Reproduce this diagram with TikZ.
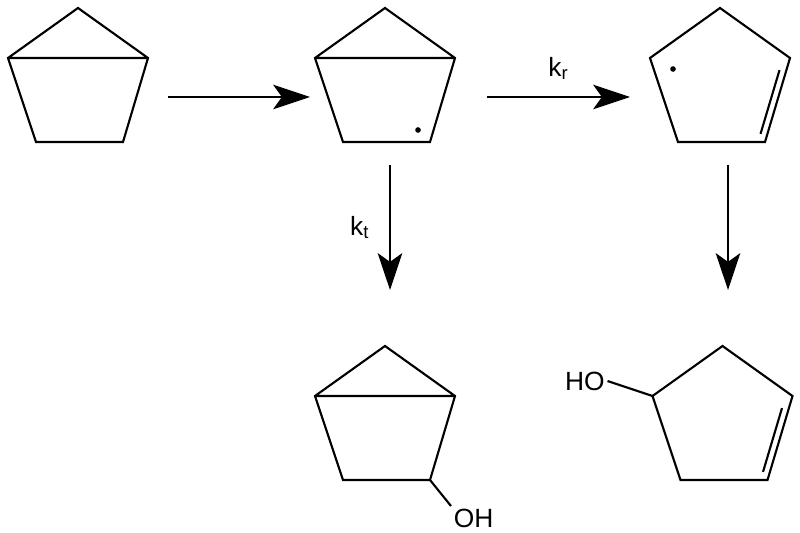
\documentclass[tikz,border=0pt]{standalone}
\usepackage{fontspec}
\setmainfont{Liberation Sans}
\usetikzlibrary{arrows.meta,calc}
\tikzset{bond/.style={line width=1.2pt,line join=miter},
  rxn/.style={line width=0.8pt,-{Stealth[length=21pt,width=14pt,inset=5pt]}},
  lbl/.style={font=\fontsize{15}{17}\selectfont}}
% pentagon with vertices: apex, left, bottom-left, bottom-right, right
\newcommand{\pent}[2]{%
  \begin{scope}[shift={(#1,#2)}]
  \coordinate (A) at (1.4,0);
  \coordinate (L) at (0,-1.0);
  \coordinate (BL) at (0.56,-2.68);
  \coordinate (BR) at (2.3,-2.68);
  \coordinate (R) at (2.8,-1.0);
  \end{scope}}
\begin{document}
\begin{tikzpicture}[x=1cm,y=1cm]
\useasboundingbox (0,0) rectangle (16,-10.66);
%bicyclopentane
\pent{0.16}{-0.16}
\draw[bond] (A)--(L)--(BL)--(BR)--(R)--cycle (L)--(R);
%radical
\pent{6.3}{-0.16}
\draw[bond] (A)--(L)--(BL)--(BR)--(R)--cycle (L)--(R);
\fill ($(BR)+(-0.24,0.24)$) circle (1.6pt);
%cyclopentenyl radical
\pent{13.0}{-0.16}
\draw[bond] (A)--(L)--(BL)--(BR)--(R)--cycle;
\draw[bond] ($(BR)!0.12!(R)+(-0.15,-0.04)$)--($(BR)!0.88!(R)+(-0.15,-0.04)$);
\fill ($(L)+(0.46,-0.22)$) circle (1.6pt);
%bicyclic alcohol
\pent{6.3}{-6.92}
\draw[bond] (A)--(L)--(BL)--(BR)--(R)--cycle (L)--(R);
\draw[bond] (BR)--++(0.42,-0.52) node[lbl,anchor=north west,inner sep=1pt] (oh1) {OH};
%cyclopentenol
\pent{13.05}{-6.92}
\draw[bond] (A)--(L)--(BL)--(BR)--(R)--cycle;
\draw[bond] ($(BR)!0.12!(R)+(-0.15,-0.04)$)--($(BR)!0.88!(R)+(-0.15,-0.04)$);
\draw[bond] (L)--++(-0.9,0.3) node[lbl,anchor=east,inner sep=1pt] (oh2) {HO};
%arrows
\coordinate (a1s) at (3.36,-1.94); \coordinate (a1e) at (6.2,-1.94);
\coordinate (a2s) at (9.74,-1.94); \coordinate (a2e) at (12.6,-1.94);
\coordinate (a3s) at (7.8,-3.3); \coordinate (a3e) at (7.8,-5.8);
\coordinate (a4s) at (14.56,-3.3); \coordinate (a4e) at (14.56,-5.8);
\draw[rxn] (a1s)--(a1e);
\draw[rxn] (a2s)--(a2e) node[lbl,midway,above=6pt] {k$_\mathrm{r}$};
\draw[rxn] (a3s)--(a3e) node[lbl,midway,left=8pt] {k$_\mathrm{t}$};
\draw[rxn] (a4s)--(a4e);
\end{tikzpicture}
\end{document}
